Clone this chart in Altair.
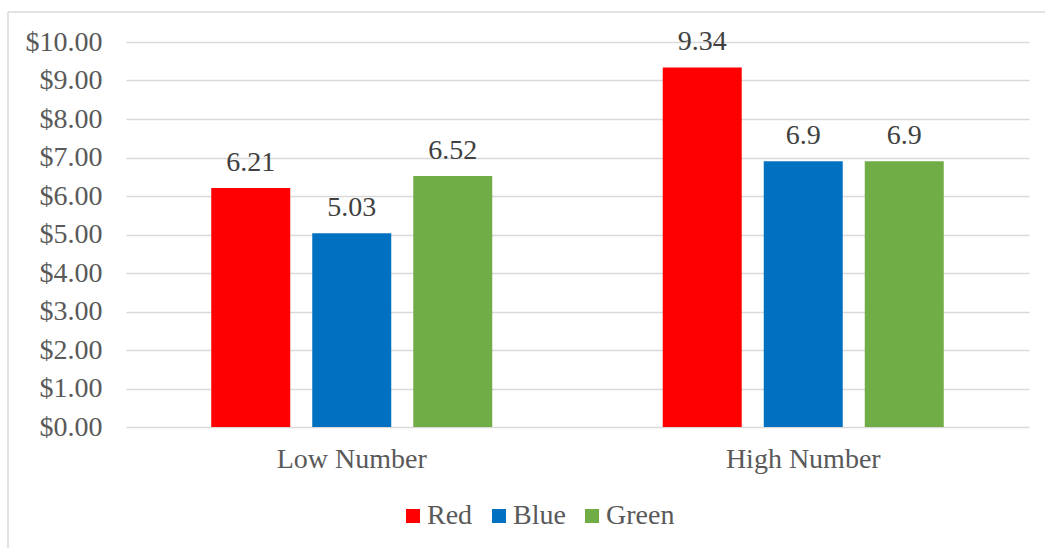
import altair as alt
import pandas as pd

# Average price by group and colour
categories = ["Low Number", "High Number"]
series = ["Red", "Blue", "Green"]
low_values = [6.21, 5.03, 6.52]
high_values = [9.34, 6.9, 6.9]
colors = ["#FF0000", "#0070C0", "#70AD47"]
y_ticks = [0, 1, 2, 3, 4, 5, 6, 7, 8, 9, 10]

rows = []
for cat, vals in zip(categories, [low_values, high_values]):
    for s, v in zip(series, vals):
        rows.append({"group": cat, "series": s, "value": v, "label": str(v)})
df = pd.DataFrame(rows)

FONT = "Liberation Serif"
SIZE = 28
TEXT = "#595959"
GRID = "#D9D9D9"

x_enc = alt.X("group:N", sort=categories, title=None,
              scale=alt.Scale(paddingInner=0, paddingOuter=0),
              axis=alt.Axis(labelAngle=0, ticks=False, domain=False,
                            labelPadding=18, labelFontSize=SIZE,
                            labelColor=TEXT, labelFont=FONT))
xoff_enc = alt.XOffset("series:N", sort=series,
                       scale=alt.Scale(paddingInner=0.218, paddingOuter=0.844))
y_enc = alt.Y("value:Q", title=None,
              scale=alt.Scale(domain=[0, 10], nice=False),
              axis=alt.Axis(values=y_ticks, format="$.2f", ticks=False,
                            domain=False, labelPadding=24, labelFontSize=SIZE,
                            labelColor=TEXT, labelFont=FONT,
                            labelOverlap=False, labelBound=False,
                            grid=True, gridColor=GRID, gridWidth=1.5))

base = alt.Chart(df)

bars = base.mark_bar().encode(
    x=x_enc,
    xOffset=xoff_enc,
    y=y_enc,
    color=alt.Color("series:N", sort=series,
                    scale=alt.Scale(domain=series, range=colors),
                    legend=alt.Legend(title=None, orient="none",
                                      direction="horizontal",
                                      legendX=273, legendY=460, padding=0,
                                      symbolType="square", symbolSize=196,
                                      symbolStrokeWidth=0,
                                      labelFontSize=SIZE, labelFont=FONT,
                                      labelColor=TEXT, labelOffset=0,
                                      columnPadding=12)),
)

labels = base.mark_text(baseline="alphabetic", dy=-17, fontSize=SIZE,
                        font=FONT, color="#404040").encode(
    x=x_enc,
    xOffset=xoff_enc,
    y=y_enc,
    text="label:N",
)

# Outer chart frame (left and top edges)
frame_left = alt.Chart().mark_rule(color=GRID, strokeWidth=1.5).encode(
    x=alt.value(-118), y=alt.value(-30), y2=alt.value(600))
frame_top = alt.Chart().mark_rule(color=GRID, strokeWidth=1.5).encode(
    x=alt.value(-118), x2=alt.value(1000), y=alt.value(-30))

chart = alt.layer(bars, labels, frame_left, frame_top).properties(
    width=903, height=385,
    autosize=alt.AutoSizeParams(type="none"),
    padding={"left": 126, "top": 42, "right": 16, "bottom": 121},
    background="white",
).configure(font=FONT).configure_view(stroke=None)

chart.save("out.html", embed_options={"renderer": "svg", "actions": False})
